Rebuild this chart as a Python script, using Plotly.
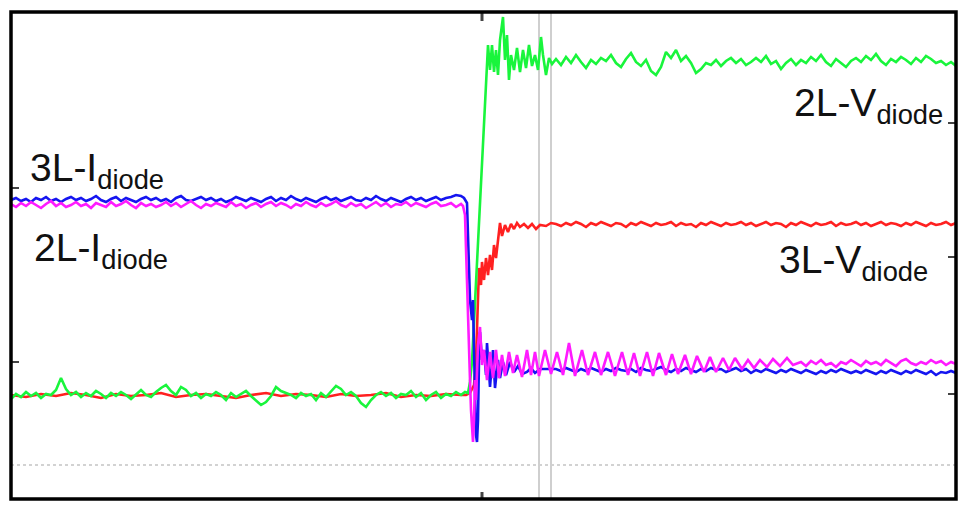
import plotly.graph_objects as go

# ---------------- data (time in samples, level in screen units) ----------------
t_pre = list(range(0, 451, 5))
t_post = list(range(545, 946, 5))

green_pre = [100,105,102,107,103,106,101,105,104,109,
             121,110,104,107,102,106,103,108,105,101,
             106,103,107,104,100,105,109,104,102,107,
             111,114,108,104,112,109,103,106,101,105,
             103,107,104,99,106,102,105,108,103,98,
             94,97,103,112,108,106,104,101,106,103,
             105,99,106,102,108,113,110,104,107,103,
             96,92,99,104,107,103,106,101,105,104,
             108,102,106,99,104,107,101,105,103,107,104]
green_rise_t = [454,457,459,461,463,465,467,469,471,473,
                475,476,477,479,481,483,485,487,489,492,
                494,496,498,500,503,506,509,512,515,518,
                521,524,527,530,532,535,538,541]
green_rise = [107,106,117,137,177,227,267,294,349,389,
              421,444,454,429,454,427,449,424,459,482,
              439,464,419,444,429,451,427,449,431,454,
              433,444,429,462,444,424,441,435]
green_post = [440,434,442,436,444,437,431,439,435,441,
              438,444,436,432,440,446,437,433,439,428,
              424,432,447,441,449,438,443,436,426,430,
              436,434,439,433,438,441,436,440,434,437,
              441,437,443,435,438,430,436,440,434,439,
              436,442,438,444,437,433,440,436,432,438,
              441,437,443,439,445,438,434,440,437,442,
              439,435,441,437,443,440,436,438,434,437,433]

red_pre_t = list(range(0, 451, 15))
red_pre = [104,102,105,103,106,104,101,105,103,104,
           106,102,104,105,103,101,104,106,103,105,
           104,102,105,103,104,106,102,104,103,105,104]
red_rise_t = [455,459,463,465,466,467,468,470,471,473,
              475,477,479,481,483,485,487,489,491,494,
              497,500,503,506,509,513,517,521,525,529,
              535,540]
red_rise = [104,106,114,139,169,209,231,214,237,219,
            241,224,244,229,254,241,261,276,263,274,
            267,275,270,276,272,275,271,275,270,274,
            273,276]
red_post = [275,273,276,274,277,275,272,276,274,277,
            275,273,276,275,272,276,274,277,275,273,
            276,274,275,277,273,276,274,275,272,276,
            274,277,275,273,276,274,275,277,274,276,
            273,275,277,274,276,275,272,276,274,277,
            275,273,276,274,275,277,273,276,274,275,
            277,274,276,273,275,277,274,276,275,273,
            276,274,277,275,273,276,274,275,277,274,276]

blue_pre = [299,301,298,300,297,301,299,302,298,300,
            297,300,302,299,301,298,300,303,299,297,
            300,302,298,301,299,297,300,302,299,301,
            298,300,297,301,303,299,298,300,302,299,
            301,298,300,297,299,302,300,298,301,299,
            297,300,302,298,301,299,303,300,298,301,
            299,297,300,302,299,301,298,300,302,299,
            298,301,299,303,300,298,301,299,297,300,
            302,299,301,298,300,302,299,301,302,304,303]
blue_rise_t = [453,456,457,458,459,461,462,463,464,465,
               466,467,468,469,471,473,475,476,479,482,
               484,487,489,492,495,499,503,507,511,516,
               520,524,529]
blue_rise = [301,296,270,230,199,179,199,149,99,64,
             57,79,139,167,139,149,124,156,112,149,
             111,139,121,137,124,137,127,133,125,127,
             131,126,130]
blue_post = [130,128,131,129,127,130,128,131,129,127,
             130,128,131,129,128,130,127,131,129,128,
             130,132,129,127,130,128,131,129,127,130,
             128,131,129,130,127,129,131,128,130,126,
             129,127,130,128,126,129,127,130,128,126,
             129,127,125,128,126,129,127,130,128,126,
             128,126,129,127,125,128,126,129,127,125,
             128,126,129,127,125,128,124,127,126,128,126]

magenta_pre = [295,292,296,293,297,294,291,295,298,293,
               296,292,294,297,293,295,291,296,294,292,
               297,293,295,298,294,291,296,293,295,292,
               294,297,293,296,292,295,298,294,291,295,
               293,296,294,292,297,293,295,291,294,296,
               292,295,297,293,296,294,291,295,293,297,
               294,292,296,293,295,298,294,292,296,293,
               295,291,294,297,293,296,292,295,294,297,
               293,296,294,292,295,297,293,294,296,292,295]
magenta_ring_t = [452,454,455,456,457,459,460,462,463,464,
                  465,467,469,471,473,476,479,482,485,488,
                  491,494,498,502,506,511,516,520,524,528,
                  534,540,546,552,558,564,571,577,584,590,
                  597,604,611,617,623,629,636,642,648,655,
                  661,667,674,680,686,693,699,705,712,718,
                  724,731,737,743,749,756,762,769,776,782]
magenta_ring = [293,284,249,202,169,119,89,57,79,119,
                99,154,172,134,149,119,147,121,149,121,
                144,123,147,126,144,122,149,124,147,123,
                149,125,147,124,156,123,149,124,147,124,
                147,123,147,124,146,123,147,123,146,124,
                145,125,144,125,143,127,142,127,141,129,
                141,130,139,131,139,132,140,133,141,134]
magenta_tail_t = list(range(790, 946, 5))
magenta_tail = [137,133,138,135,139,134,136,132,137,135,
                139,136,133,138,135,137,134,139,136,133,
                138,140,136,134,137,135,139,136,138,134,
                137,135]

cursor_t = [528, 540]
ground_level = 34
trigger_t = 471
left_markers = [311, 137]
right_markers = [376, 242, 105]

X_MAX, Y_MAX = 945, 487

# ---------------- figure ----------------
def join(*parts):
    xs, ys = [], []
    for tx, vy in parts:
        for a, b in zip(tx, vy):
            xs.append(a)
            ys.append(b)
    return xs, ys

fig = go.Figure()
series = [
    ("3L-Vdiode", "#ff2020", join((red_pre_t, red_pre), (red_rise_t, red_rise), (t_post, red_post))),
    ("2L-Vdiode", "#19f53c", join((t_pre, green_pre), (green_rise_t, green_rise), (t_post, green_post))),
    ("3L-Idiode", "#1515f0", join((t_pre, blue_pre), (blue_rise_t, blue_rise), (t_post, blue_post))),
    ("2L-Idiode", "#ff1aff", join((t_pre, magenta_pre), (magenta_ring_t, magenta_ring), (magenta_tail_t, magenta_tail))),
]
for name, col, (xs, ys) in series:
    fig.add_trace(go.Scatter(x=xs, y=ys, mode="lines", name=name,
                             line=dict(color=col, width=2.6), hoverinfo="skip"))

shapes = []
shapes.append(dict(type="line", xref="paper", yref="y", x0=0, x1=1, y0=ground_level, y1=ground_level,
                   line=dict(color="#c4c4c4", width=1.5, dash="dot"), layer="below"))
for c in cursor_t:
    shapes.append(dict(type="line", xref="x", yref="paper", x0=c, x1=c, y0=0, y1=1,
                       line=dict(color="#cfcfcf", width=2), layer="below"))
shapes.append(dict(type="line", xref="x", yref="paper", x0=trigger_t, x1=trigger_t, y0=1, y1=1 - 9 / Y_MAX,
                   line=dict(color="#444444", width=3)))
shapes.append(dict(type="line", xref="x", yref="paper", x0=trigger_t, x1=trigger_t, y0=0, y1=7 / Y_MAX,
                   line=dict(color="#444444", width=3)))
for m in left_markers:
    shapes.append(dict(type="line", xref="paper", yref="y", x0=0, x1=8 / X_MAX, y0=m, y1=m,
                       line=dict(color="#444444", width=2)))
for m in right_markers:
    shapes.append(dict(type="line", xref="paper", yref="y", x0=1 - 8 / X_MAX, x1=1, y0=m, y1=m,
                       line=dict(color="#444444", width=2)))
shapes.append(dict(type="rect", xref="paper", yref="paper", x0=0, x1=1, y0=0, y1=1,
                   line=dict(color="#000000", width=3.5)))

font = dict(family="Liberation Sans, Arial, sans-serif", size=39, color="#111111")
annotations = [
    dict(text="3L-I<sub>diode</sub>", x=17, y=329, xanchor="left", yanchor="middle"),
    dict(text="2L-I<sub>diode</sub>", x=21, y=249, xanchor="left", yanchor="middle"),
    dict(text="2L-V<sub>diode</sub>", x=934, y=394, xanchor="right", yanchor="middle"),
    dict(text="3L-V<sub>diode</sub>", x=919, y=237, xanchor="right", yanchor="middle"),
]
for a in annotations:
    a.update(xref="x", yref="y", showarrow=False, font=font)

# page body keeps an 8 px default margin, so the figure is 8 px smaller and offset
fig.update_layout(
    width=961, height=508,
    margin=dict(l=3, r=13, t=4, b=17),
    paper_bgcolor="white", plot_bgcolor="white",
    showlegend=False,
    shapes=shapes, annotations=annotations,
    xaxis=dict(range=[0, X_MAX], visible=False, fixedrange=True),
    yaxis=dict(range=[0, Y_MAX], visible=False, fixedrange=True),
)
fig.write_html("out.html", config=dict(displayModeBar=False))
